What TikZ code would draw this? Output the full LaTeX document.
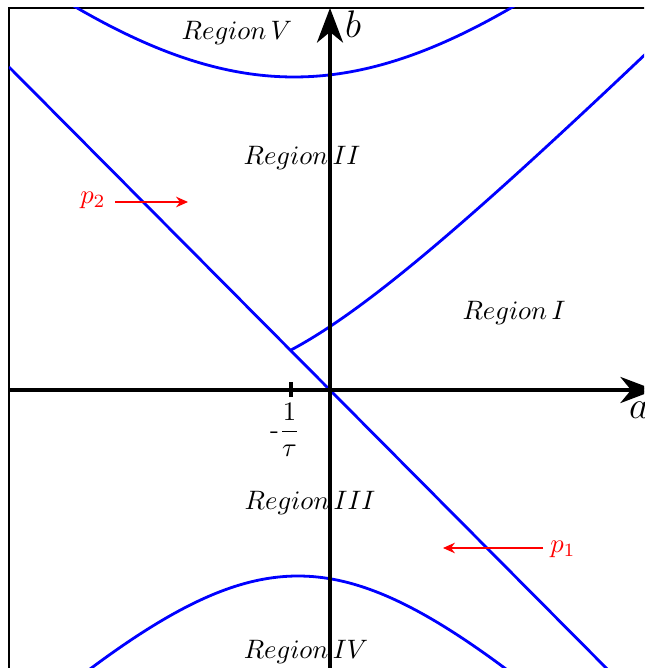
\documentclass[tikz,border=0pt]{standalone}
\usetikzlibrary{arrows.meta}
\begin{document}
\begin{tikzpicture}[x=3.75pt,y=3.75pt,
  curve/.style={blue,line width=1.05pt},
  axis/.style={black,line width=1.25pt,-{Stealth[length=13pt,width=9.8pt,inset=4pt]}},
  parrow/.style={red,line width=0.45pt,-{Stealth[length=4.5pt,width=4pt,inset=1.5pt]}},
  lbl/.style={inner sep=0pt},
  plbl/.style={red,inner sep=0pt}]
\useasboundingbox (-33,-27.8) rectangle (31.4,39);
\clip (-33,-27.8) rectangle (31.4,39);
% frame
\draw[line width=0.4pt] (-32.1,-40) -- (-32.1,38.2) -- (40,38.2);
% curves
\begin{scope}
\clip (-32.1,-28) rectangle (31.4,38.2);
\draw[curve] plot[domain=-27:20,samples=90] (\x,{sqrt(31.3*31.3+1.02*(\x+3.6)*(\x+3.6))});
\draw[curve] plot[domain=-26:20,samples=90] (\x,{-sqrt(18.6*18.6+(\x+3.2)*(\x+3.2))});
\draw[curve] plot[domain=-3.9:33,samples=90] (\x,{-13.7+sqrt(225+(\x+13.3)*(\x+13.3))});
\draw[curve] (-32.1,32.3) -- (30,-30.2);
\end{scope}
% axes
\coordinate (xs) at (-32.1,0);
\coordinate (xe) at (32.5,0);
\coordinate (ys) at (0,-28);
\coordinate (ye) at (0,38.2);
\draw[axis] (xs) -- (xe);
\draw[axis] (ys) -- (ye);
\node[lbl] (blab) at (2.3,36.6) {\Large $b$};
\node[lbl] (alab) at (30.9,-2.0) {\Large $a$};
% tick
\coordinate (t1) at (-3.9,0.75);
\coordinate (t2) at (-3.9,-0.75);
\draw[line width=1.25pt] (t1) -- (t2);
\node[lbl] (tau) at (-4.5,-4.0) {-$\displaystyle\frac{1}{\tau}$};
% region labels
\node[lbl] (r5) at (-9.3,35.7) {$Region\,V$};
\node[lbl] (r2) at (-2.8,23.2) {$Region\,II$};
\node[lbl] (r1) at (18.4,7.7) {$Region\,I$};
\node[lbl] (r3) at (-2.0,-11.3) {$Region\,III$};
\node[lbl] (r4) at (-2.4,-26.2) {$Region\,IV$};
% p arrows
\node[plbl] (p2) at (-23.7,19.0) {$p_2$};
\coordinate (p2s) at (-21.5,18.8);
\coordinate (p2e) at (-14.2,18.8);
\draw[parrow] (p2s) -- (p2e);
\node[plbl] (p1) at (23.3,-15.9) {$p_1$};
\coordinate (p1s) at (21.3,-15.8);
\coordinate (p1e) at (11.3,-15.8);
\draw[parrow] (p1s) -- (p1e);
\end{tikzpicture}
\end{document}
